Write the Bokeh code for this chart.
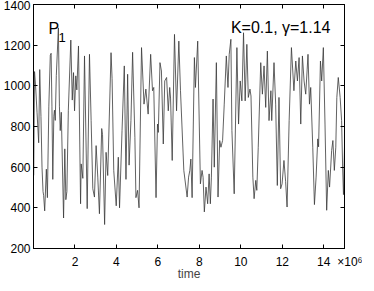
from bokeh.plotting import figure
from bokeh.models import Range1d, FixedTicker, LinearAxis
from bokeh.models import Label
from bokeh.embed import file_html
from bokeh.resources import INLINE

# time in units of 10^6
time_1e6 = [0.01, 0.05, 0.10, 0.17, 0.25, 0.30, 0.36, 0.41, 0.46, 0.49, 0.54, 0.62, 0.67, 0.74, 0.81, 0.85,
            0.89, 0.93, 0.98, 1.01, 1.05, 1.10, 1.20, 1.25, 1.29, 1.34, 1.45, 1.51, 1.56, 1.61, 1.68, 1.80,
            1.87, 1.93, 1.98, 2.04, 2.09, 2.17, 2.27, 2.30, 2.38, 2.46, 2.59, 2.70, 2.78, 2.86, 2.94, 3.02,
            3.10, 3.18, 3.29, 3.33, 3.43, 3.50, 3.58, 3.74, 3.79, 3.87, 3.99, 4.09, 4.15, 4.27, 4.38, 4.46,
            4.54, 4.61, 4.70, 4.78, 4.89, 4.94, 5.02, 5.09, 5.21, 5.33, 5.42, 5.53, 5.65, 5.74, 5.80, 5.91,
            5.98, 6.02, 6.10, 6.17, 6.26, 6.33, 6.42, 6.50, 6.57, 6.61, 6.69, 6.80, 6.90, 7.01, 7.09, 7.25,
            7.41, 7.48, 7.54, 7.59, 7.65, 7.76, 7.81, 7.92, 8.05, 8.13, 8.18, 8.24, 8.32, 8.40, 8.47, 8.53,
            8.58, 8.66, 8.72, 8.82, 8.90, 8.98, 9.04, 9.12, 9.20, 9.30, 9.38, 9.44, 9.52, 9.57, 9.68, 9.81,
            9.89, 9.97, 10.05, 10.13, 10.21, 10.29, 10.36, 10.44, 10.49, 10.58, 10.64, 10.72, 10.77, 10.84,
            10.96, 11.04, 11.12, 11.20, 11.28, 11.36, 11.45, 11.49, 11.60, 11.68, 11.76, 11.84, 11.92, 11.99,
            12.08, 12.16, 12.23, 12.33, 12.44, 12.56, 12.65, 12.73, 12.81, 12.89, 12.97, 13.05, 13.13, 13.20,
            13.24, 13.31, 13.37, 13.47, 13.55, 13.63, 13.71, 13.75, 13.84, 13.90, 13.98, 14.06, 14.14, 14.22,
            14.28, 14.38, 14.44, 14.51, 14.58, 14.63, 14.70, 14.79, 14.86, 14.91, 14.95, 15.00]
p1 = [560, 1070, 1000, 870, 720, 1080, 850, 600, 480, 460, 385, 590, 450, 900, 1150, 1160,
      900, 540, 850, 880, 830, 1050, 1285, 900, 780, 870, 350, 690, 440, 480, 880, 1225,
      930, 1065, 877, 1049, 980, 1196, 420, 616, 545, 1147, 396, 1155, 829, 494, 453, 706,
      551, 371, 790, 760, 318, 673, 559, 1163, 1035, 584, 410, 649, 400, 780, 1098, 540,
      1057, 610, 829, 1165, 747, 450, 486, 400, 1188, 910, 984, 861, 1155, 976, 992, 450,
      812, 771, 1114, 1073, 714, 1024, 1041, 877, 992, 940, 633, 1253, 877, 1220, 976, 584,
      453, 551, 584, 640, 450, 1139, 992, 1220, 518, 584, 550, 380, 502, 420, 567, 420,
      551, 935, 600, 1114, 453, 731, 698, 731, 910, 1147, 992, 1155, 1229, 780, 469, 1188,
      812, 1024, 926, 1261, 926, 1204, 943, 984, 950, 551, 445, 535, 486, 698,
      1114, 959, 1098, 894, 1171, 829, 976, 829, 1114, 910, 510, 943, 494, 518,
      633, 530, 404, 829, 1188, 976, 1122, 1024, 1139, 812, 1147, 1024, 959, 1082,
      1155, 910, 992, 698, 416, 551, 739, 700, 1122, 1024, 1188, 812, 388, 584,
      502, 682, 731, 584, 698, 943, 1041, 943, 829, 600, 465, 700]

x_ticks = [2, 4, 6, 8, 10, 12, 14]
y_ticks = [200, 400, 600, 800, 1000, 1200, 1400]
x_scale_label = "\u00d710\u2076"
x_title = "time"

FONT = "Liberation Sans"
SP = "\u2007"  # figure space

p = figure(width=362, height=283, output_backend="svg", toolbar_location=None,
           x_range=Range1d(0, 15), y_range=Range1d(200, 1400),
           min_border_top=4, min_border_right=18, min_border_left=4, min_border_bottom=0)
p.background_fill_color = "white"
p.border_fill_color = "white"
p.grid.visible = False
p.outline_line_color = "black"
p.outline_line_width = 1

p.line(time_1e6, p1, line_color="#3a3a3a", line_width=0.8)

for ax in (p.xaxis[0], p.yaxis[0]):
    ax.major_tick_in = 4
    ax.major_tick_out = 0
    ax.minor_tick_in = 0
    ax.minor_tick_out = 0
    ax.axis_line_color = "black"
    ax.major_tick_line_color = "black"
    ax.major_label_text_font = FONT
    ax.major_label_text_font_size = "12px"
    ax.major_label_text_color = "black"

# bottom axis: tick labels 2..14 plus the scale factor at the right end
p.xaxis.ticker = FixedTicker(ticks=x_ticks + [15])
p.xaxis.major_label_overrides = {15: SP * 4 + x_scale_label}
p.yaxis.ticker = FixedTicker(ticks=y_ticks)
p.yaxis.major_label_standoff = 3
p.xaxis.major_label_standoff = 6
p.xaxis.axis_label = x_title
p.xaxis.axis_label_text_font = FONT
p.xaxis.axis_label_text_font_size = "12px"
p.xaxis.axis_label_text_font_style = "normal"
p.xaxis.axis_label_standoff = -5

# box ticks on top and right
top = LinearAxis(ticker=FixedTicker(ticks=x_ticks), major_label_text_font_size="0px",
                 major_label_overrides={t: "" for t in x_ticks},
                 major_tick_in=4, major_tick_out=0, minor_tick_in=0, minor_tick_out=0,
                 major_label_standoff=0)
right = LinearAxis(ticker=FixedTicker(ticks=y_ticks), major_label_text_font_size="0px",
                   major_label_overrides={t: "" for t in y_ticks},
                   major_tick_in=4, major_tick_out=0, minor_tick_in=0, minor_tick_out=0,
                   major_label_standoff=0)
p.add_layout(top, "above")
p.add_layout(right, "right")

p.add_layout(Label(x=0.72, y=1281, text="P", text_font=FONT, text_font_size="16px",
                   text_baseline="alphabetic", text_color="black"))
p.add_layout(Label(x=1.2, y=1240, text="1", text_font=FONT, text_font_size="13px",
                   text_baseline="alphabetic", text_color="black"))
p.add_layout(Label(x=9.52, y=1289, text="K=0.1, \u03b3=1.14", text_font=FONT, text_font_size="16px",
                   text_baseline="alphabetic", text_color="black"))

open("out.html", "w").write(file_html(p, INLINE))
